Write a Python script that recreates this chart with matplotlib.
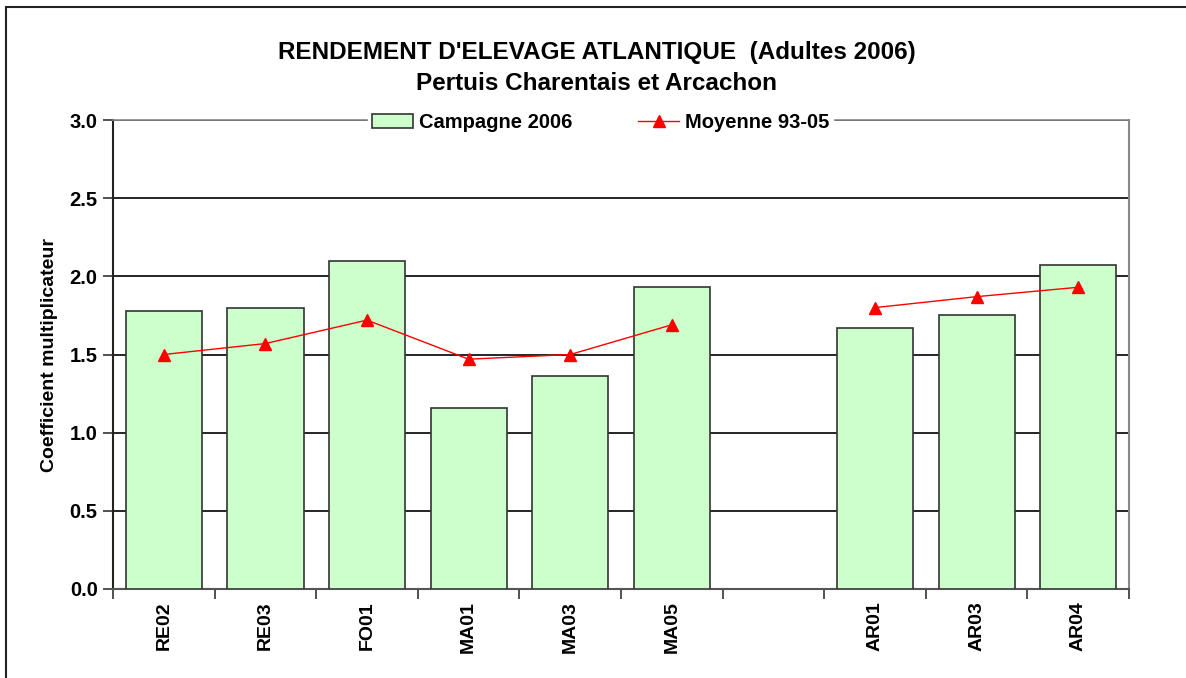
import numpy as np
import matplotlib.pyplot as plt
from matplotlib.patches import Rectangle

plt.rcParams['font.family'] = ['Liberation Sans', 'DejaVu Sans']

# donnees
sites = ['RE02', 'RE03', 'FO01', 'MA01', 'MA03', 'MA05', '', 'AR01', 'AR03', 'AR04']
campagne_2006 = [1.78, 1.80, 2.10, 1.16, 1.36, 1.93, np.nan, 1.67, 1.75, 2.07]
moyenne_93_05 = [1.50, 1.57, 1.72, 1.47, 1.50, 1.69, np.nan, 1.80, 1.87, 1.93]

fig = plt.figure(figsize=(11.86, 6.78), dpi=100)
ax = fig.add_axes([113/1186, 1 - 589/678, (1129 - 113)/1186, (589 - 120)/678])

# cadre exterieur
fig.patches.append(Rectangle((6/1186, -0.05), 1.2, 1 - 7/678 + 0.05,
                             transform=fig.transFigure, fill=False,
                             edgecolor='#222222', linewidth=1.5))

x = np.arange(len(sites))
barres = ax.bar(x, campagne_2006, width=0.75, color='#CCFFCC', edgecolor='#333333',
                linewidth=1.2, label='Campagne 2006', zorder=3)
ligne, = ax.plot(x, moyenne_93_05, color='red', linewidth=1, marker='^', markersize=8,
                 label='Moyenne 93-05', zorder=4)

ax.set_xlim(-0.5, len(sites) - 0.5)
ax.set_ylim(0, 3.0)
ax.set_yticks(np.arange(0, 3.01, 0.5))
ax.set_yticklabels([f'{v:.1f}' for v in np.arange(0, 3.01, 0.5)],
                   fontsize=14.5, fontweight='bold')
ax.yaxis.grid(True, color='black', linewidth=1.2, zorder=0)
ax.set_axisbelow(True)

ax.set_xticks(x)
ax.set_xticklabels(sites, rotation=90, fontsize=14, fontweight='bold')
ax.tick_params(axis='x', length=0, pad=9)
ax.set_xticks(np.arange(-0.5, len(sites), 1), minor=True)
ax.tick_params(axis='x', which='minor', length=7, width=1.2, color='#333333')
ax.tick_params(axis='y', length=7, width=1.2, color='#333333', pad=4)

ax.spines['left'].set_color('#222222')
ax.spines['left'].set_linewidth(1.5)
ax.spines['bottom'].set_color('#555555')
ax.spines['bottom'].set_linewidth(1.5)
ax.spines['right'].set_color('#888888')
ax.spines['right'].set_linewidth(1.5)
ax.spines['top'].set_color('#888888')
ax.spines['top'].set_linewidth(1.2)

ax.set_ylabel('Coefficient multiplicateur', fontsize=14, fontweight='bold', labelpad=8)

leg = ax.legend([barres, ligne], ['Campagne 2006', 'Moyenne 93-05'],
                loc='center', bbox_to_anchor=(0.48, 0.995), ncol=2, frameon=True,
                prop={'size': 14.5, 'weight': 'bold'}, handlelength=2.0,
                columnspacing=3.3, borderpad=0.2, handletextpad=0.3,
                borderaxespad=0)
leg.get_frame().set_edgecolor('white')
leg.get_frame().set_facecolor('white')
leg.get_frame().set_alpha(1)

fig.text(0.503, 1 - 52/678, "RENDEMENT D'ELEVAGE ATLANTIQUE  (Adultes 2006)",
         ha='center', va='center', fontsize=17.5, fontweight='bold')
fig.text(0.503, 1 - 83/678, 'Pertuis Charentais et Arcachon',
         ha='center', va='center', fontsize=17.5, fontweight='bold')

fig.savefig('out.png', dpi=100)
